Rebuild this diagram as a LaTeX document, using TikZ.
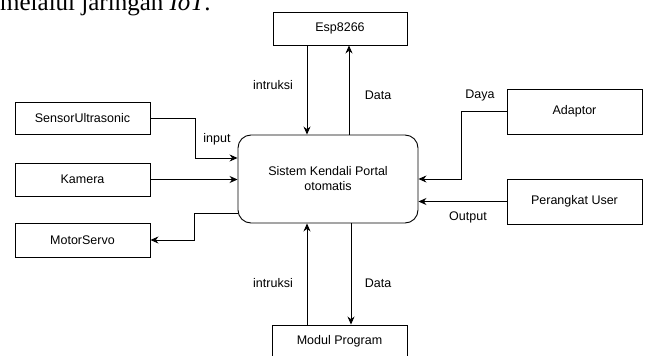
\documentclass[tikz,border=0pt]{standalone}
\usepackage{fontspec}
\setmainfont{Liberation Sans}
\newfontfamily\judulfont{Liberation Serif}
\usetikzlibrary{arrows.meta}
\begin{document}
\begin{tikzpicture}[
	x=1pt,y=-1pt,
	font=\fontsize{12.5}{15}\selectfont,
	kotak/.style={draw,line width=0.9pt,minimum width=135,minimum height=33,inner sep=0pt},
	inti/.style={draw,line width=0.9pt,rounded corners=13,minimum width=180,minimum height=88,align=center,inner sep=0pt},
	panah/.style={line width=0.9pt,-{Stealth[length=8pt,width=7pt]}},
	ket/.style={inner sep=0pt},
	]
\useasboundingbox (0,0) rectangle (649,356);
% sisa kalimat dari halaman
\node [ket,anchor=base west,font=\judulfont\fontsize{25}{28}\selectfont] (teks) at (0,10) {melalui jaringan \textit{IoT}.};
% blok
\node [inti] (sistem) at (328,179) {Sistem Kendali Portal\\otomatis};
\node [kotak,minimum width=134] (esp) at (340,28.5) {Esp8266};
\node [kotak,minimum height=32] (sensor) at (82.5,118) {SensorUltrasonic};
\node [kotak] (kamera) at (82.5,179.5) {Kamera};
\node [kotak,minimum height=34] (motor) at (82.5,240) {MotorServo};
\node [kotak,minimum height=45] (adaptor) at (574.5,111.5) {Adaptor};
\node [kotak,minimum height=45] (perangkat) at (574.5,201.5) {Perangkat User};
\node [kotak,minimum height=33] (modul) at (339.5,341.5) {Modul Program};
% panah
\draw [panah] ([xshift=-33]esp.south) -- ([xshift=-33]esp.south |- sistem.north);
\draw [panah] ([xshift=9]esp.south |- sistem.north) -- ([xshift=9]esp.south);
\draw [panah] (sensor.east) -- ++(45,0) |- ([yshift=21]sistem.west);
\draw [panah] (kamera.east) -- (kamera.east -| sistem.west);
\draw [panah] ([yshift=-34]sistem.west) -- ++(-43,0) |- (motor.east);
\draw [panah] (adaptor.west) -- ++(-45,0) |- (sistem.east);
\draw [panah] (perangkat.west) -- (perangkat.west -| sistem.east);
\draw [panah] ([xshift=-32.5]modul.north) -- ([xshift=-32.5]modul.north |- sistem.south);
\draw [panah] ([xshift=11.5]modul.north |- sistem.south) -- ([xshift=11.5]modul.north);
% keterangan
\node [ket] (lintruksi1) at (273,85) {intruksi};
\node [ket] (ldata1) at (378,95) {Data};
\node [ket] (linput) at (217,139) {input};
\node [ket] (ldaya) at (480,95) {Daya};
\node [ket] (loutput) at (468,217) {Output};
\node [ket] (lintruksi2) at (273,283) {intruksi};
\node [ket] (ldata2) at (378,283) {Data};
\end{tikzpicture}
\end{document}
